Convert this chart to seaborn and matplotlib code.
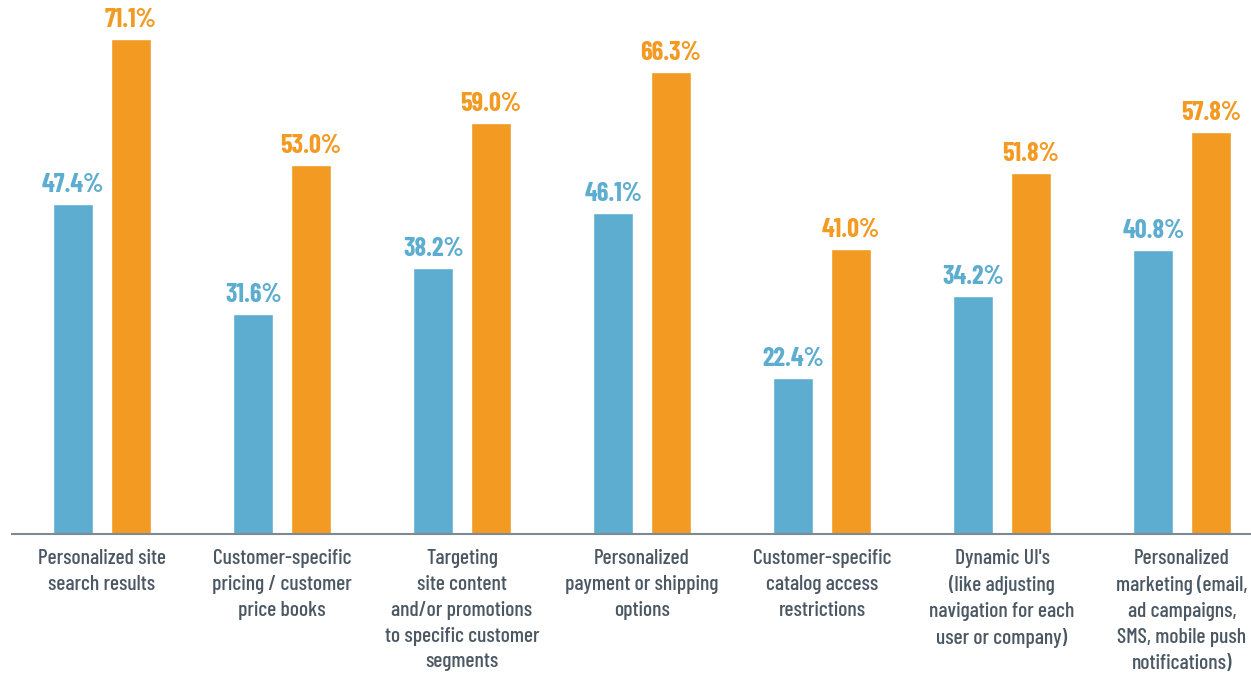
import matplotlib
matplotlib.use("Agg")
import matplotlib.pyplot as plt
import seaborn as sns
import pandas as pd

categories = [
    "Personalized site\nsearch results",
    "Customer-specific\npricing / customer\nprice books",
    "Targeting\nsite content\nand/or promotions\nto specific customer\nsegments",
    "Personalized\npayment or shipping\noptions",
    "Customer-specific\ncatalog access\nrestrictions",
    "Dynamic UI's\n(like adjusting\nnavigation for each\nuser or company)",
    "Personalized\nmarketing (email,\nad campaigns,\nSMS, mobile push\nnotifications)",
]
series_names = ["A", "B"]
values_a = [47.4, 31.6, 38.2, 46.1, 22.4, 34.2, 40.8]
values_b = [71.1, 53.0, 59.0, 66.3, 41.0, 51.8, 57.8]
colors = ["#5DADD0", "#F29A22"]

df = pd.DataFrame({
    "category": categories * 2,
    "series": [series_names[0]] * len(categories) + [series_names[1]] * len(categories),
    "value": values_a + values_b,
})

sns.set_style("white")
fonts = ["Barlow Condensed", "Roboto Condensed", "Liberation Sans Narrow", "DejaVu Sans"]
plt.rcParams["font.family"] = fonts

fig = plt.figure(figsize=(12.51, 6.76), dpi=100)
ax = fig.add_axes([12 / 1251, 142 / 676, 1 - 12 / 1251, 534 / 676])

sns.barplot(data=df, x="category", y="value", hue="series", order=categories,
            palette=colors, width=0.64, gap=0.305, legend=False, ax=ax,
            saturation=1)

for container, col in zip(ax.containers, colors):
    ax.bar_label(container, labels=[f"{v:.1f}%" for v in container.datavalues],
                 padding=5, color=col, fontsize=19, fontweight="bold")

ax.set_xlim(-0.5, 6.383)
ax.set_ylim(0, 76.7)
ax.set_xlabel("")
ax.set_ylabel("")
ax.set_yticks([])
ax.tick_params(axis="x", length=0, pad=11, labelsize=15.5, labelcolor="#4B5864")
for lbl in ax.get_xticklabels():
    lbl.set_linespacing(1.45)
    lbl.set_fontweight(500)
for s in ["top", "right", "left"]:
    ax.spines[s].set_visible(False)
ax.spines["bottom"].set_color("#7D8A93")
ax.spines["bottom"].set_linewidth(1.5)

fig.savefig("out.png", dpi=100)
